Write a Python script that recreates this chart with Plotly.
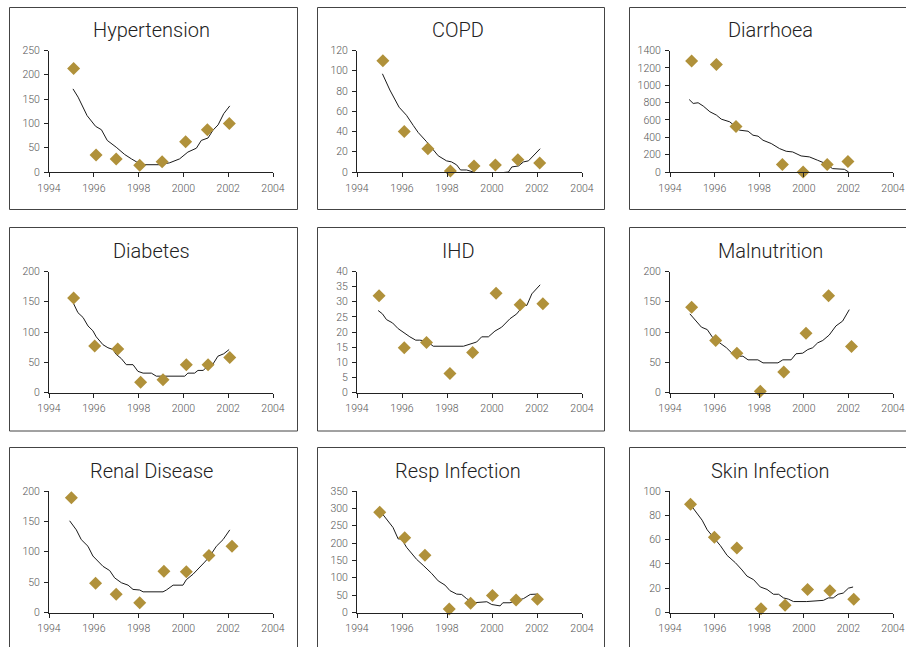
import plotly.graph_objects as go

W, H = 906, 647

# ---- data -------------------------------------------------------------
titles = ["Hypertension", "COPD", "Diarrhoea",
          "Diabetes", "IHD", "Malnutrition",
          "Renal Disease", "Resp Infection", "Skin Infection"]

# observed yearly counts (x = year of observation)
hyper_x = [1995.1, 1996.1, 1997.0, 1998.05, 1999.05, 2000.1, 2001.07, 2002.05]
hyper_y = [213, 35, 27, 14, 21, 62, 87, 100]
copd_x = [1995.15, 1996.1, 1997.15, 1998.15, 1999.2, 2000.15, 2001.15, 2002.12]
copd_y = [110, 40, 23, 1, 6, 7, 12, 9]
diarr_x = [1994.97, 1996.08, 1996.96, 1999.04, 1999.97, 2001.05, 2001.98]
diarr_y = [1280, 1240, 525, 85, 0, 85, 120]
diab_x = [1995.1, 1996.04, 1997.07, 1998.09, 1999.09, 2000.13, 2001.1, 2002.07]
diab_y = [156, 77, 72, 17, 21, 46, 46, 58]
ihd_x = [1994.98, 1996.1, 1997.09, 1998.13, 1999.14, 2000.18, 2001.25, 2002.26]
ihd_y = [32, 14.8, 16.5, 6.3, 13.2, 32.8, 29.0, 29.3]
maln_x = [1994.97, 1996.05, 1997.0, 1998.05, 1999.1, 2000.1, 2001.11, 2002.14]
maln_y = [141, 86, 65, 2, 34, 98, 160, 76]
renal_x = [1995.0, 1996.08, 1997.0, 1998.05, 1999.13, 2000.13, 2001.14, 2002.17]
renal_y = [189, 48, 30, 16, 68, 67, 94, 109]
resp_x = [1995.01, 1996.12, 1997.02, 1998.1, 1999.05, 2000.02, 2001.07, 2002.02]
resp_y = [289, 215, 165, 10, 27, 49, 36, 38]
skin_x = [1994.92, 1995.99, 1997.0, 1998.08, 1999.16, 2000.17, 2001.17, 2002.24]
skin_y = [89, 62, 53, 3, 6, 19, 18, 11]

# fitted trend lines
hyper_tx = [1995.07, 1995.3, 1995.7, 1996.08, 1996.34, 1996.6, 1997.0, 1997.38, 1997.68,
            1997.9, 1998.27, 1998.94, 1999.39, 1999.83, 2000.2, 2000.58, 2000.8, 2001.1,
            2001.32, 2001.55, 2001.8, 2002.07]
hyper_ty = [171, 154, 116, 94, 87, 65, 51, 36, 27, 21, 15, 15, 19, 27, 41, 49, 65, 70,
            86, 97, 120, 136]
copd_tx = [1995.13, 1995.46, 1995.87, 1996.2, 1996.5, 1996.72, 1997.09, 1997.61, 1997.98,
           1998.2, 1998.43, 1998.6, 1998.87, 1999.17, 1999.47, 1999.91, 2000.29, 2000.73,
           2000.88, 2001.18, 2001.4, 2001.62, 2002.14]
copd_ty = [97, 81, 64, 56, 46, 39, 30, 16, 11, 10, 7, 2, 2, 0, -4, -4, -1, 0, 5, 6, 10,
           11, 23]
diarr_tx = [1994.86, 1995.04, 1995.26, 1995.49, 1995.79, 1996.08, 1996.3, 1996.53, 1996.68,
            1996.9, 1997.12, 1997.5, 1997.72, 1997.95, 1998.17, 1998.54, 1998.91, 1999.21,
            1999.5, 1999.88, 2000.25, 2000.62, 2000.92, 2001.29, 2001.59, 2001.82, 2002.01]
diarr_ty = [835, 790, 798, 760, 694, 656, 609, 594, 578, 532, 482, 470, 424, 413, 366, 328,
            270, 239, 231, 185, 174, 135, 104, 39, 39, 31, 0]
diab_tx = [1995.07, 1995.29, 1995.52, 1995.74, 1995.96, 1996.11, 1996.41, 1996.63, 1996.86,
           1997.0, 1997.23, 1997.45, 1997.75, 1997.97, 1998.2, 1998.57, 1998.79, 1999.24,
           2000.06, 2000.2, 2000.5, 2000.65, 2000.88, 2001.1, 2001.32, 2001.54, 2001.8, 2002.04]
diab_ty = [149, 132, 124, 110, 102, 92, 79, 74, 71, 63, 56, 46, 46, 35, 32, 32, 27, 27,
           27, 32, 32, 36.5, 36.5, 44, 47, 60, 64, 71]
ihd_tx = [1994.94, 1995.13, 1995.31, 1995.58, 1995.83, 1996.12, 1996.35, 1996.61, 1996.79,
          1997.09, 1997.39, 1998.73, 1999.1, 1999.32, 1999.54, 1999.84, 2000.13, 2000.43,
          2000.8, 2001.1, 2001.4, 2001.55, 2001.77, 2002.14]
ihd_ty = [27.1, 26.0, 24.1, 23.0, 21.1, 19.5, 18.4, 17.3, 17.3, 17.0, 15.3, 15.3, 16.1,
          16.7, 18.4, 18.4, 20.3, 21.6, 24.4, 26.0, 28.8, 28.8, 32.6, 35.6]
maln_tx = [1994.89, 1995.12, 1995.41, 1995.67, 1995.93, 1996.23, 1996.53, 1996.83, 1997.05,
           1997.27, 1997.5, 1997.94, 1998.17, 1998.84, 1999.06, 1999.43, 1999.65, 1999.95,
           2000.18, 2000.4, 2000.62, 2000.85, 2001.14, 2001.44, 2001.74, 2002.04]
maln_ty = [130, 120, 108, 104, 90, 82, 74, 63, 60, 60, 54, 54, 49, 49, 54, 54, 64, 65,
           71, 74, 82, 86, 95, 110, 118, 137]
renal_tx = [1994.92, 1995.22, 1995.44, 1995.74, 1995.96, 1996.19, 1996.41, 1996.71, 1996.93,
            1997.23, 1997.53, 1997.75, 1998.05, 1998.2, 1999.09, 1999.24, 1999.54, 1999.98,
            2000.13, 2000.43, 2000.73, 2000.95, 2001.17, 2001.47, 2001.77, 2002.07]
renal_ty = [151, 136, 120, 109, 93, 84, 76, 69, 57, 49, 45, 38, 37, 34, 34, 37, 45, 45,
            54, 63, 74, 83, 92, 109, 120, 136]
resp_tx = [1995.13, 1995.38, 1995.6, 1995.83, 1995.98, 1996.2, 1996.42, 1996.65, 1996.94,
           1997.31, 1997.61, 1997.91, 1998.13, 1998.43, 1998.65, 1998.87, 1999.17, 1999.77,
           1999.99, 2000.36, 2000.48, 2000.8, 2001.18, 2001.4, 2001.7, 2002.0]
resp_ty = [284, 262, 245, 212, 212, 188, 172, 153, 136, 113, 91, 79, 63, 53, 52, 40, 28,
           31, 23, 19, 28, 28, 36, 40, 52, 53]
skin_tx = [1994.95, 1995.22, 1995.44, 1995.67, 1995.96, 1996.26, 1996.56, 1996.93, 1997.23,
           1997.45, 1997.75, 1998.05, 1998.35, 1998.64, 1998.87, 1999.09, 1999.31, 1999.54,
           2000.13, 2000.88, 2001.1, 2001.32, 2001.54, 2001.77, 2002.0, 2002.21]
skin_ty = [88, 81, 76, 68, 62, 55, 47, 41, 35, 30, 27, 21, 19, 15, 15, 12, 11, 9, 9, 10,
           12, 12, 15, 16, 20, 21]

points = [(hyper_x, hyper_y), (copd_x, copd_y), (diarr_x, diarr_y),
          (diab_x, diab_y), (ihd_x, ihd_y), (maln_x, maln_y),
          (renal_x, renal_y), (resp_x, resp_y), (skin_x, skin_y)]
trends = [(hyper_tx, hyper_ty), (copd_tx, copd_ty), (diarr_tx, diarr_ty),
          (diab_tx, diab_ty), (ihd_tx, ihd_ty), (maln_tx, maln_ty),
          (renal_tx, renal_ty), (resp_tx, resp_ty), (skin_tx, skin_ty)]
y_max = [250, 120, 1400, 200, 40, 200, 200, 350, 100]
y_step = [50, 20, 200, 50, 5, 50, 50, 50, 20]

# ---- layout geometry (pixels) ----------------------------------------
col_plot = [(49, 273), (357, 582), (670, 893)]
row_plot = [(50.5, 172), (271.5, 392.5), (491, 612.5)]
col_box = [(9.5, 297.5), (317.5, 604.5), (629.5, 912)]
row_box = [(7.5, 209.5), (227.5, 431), (447.5, 655)]
title_x = [151, 458, 770]
title_y = [30, 251, 471]

FONT = "Roboto"
GOLD = "#B0913A"

fig = go.Figure()
shapes, annotations = [], []

for i in range(9):
    r, c = divmod(i, 3)
    n = i + 1
    xa = "x" if n == 1 else f"x{n}"
    ya = "y" if n == 1 else f"y{n}"

    tx, ty = trends[i]
    fig.add_trace(go.Scatter(x=tx, y=ty, mode="lines", xaxis=xa, yaxis=ya,
                             line=dict(color="#1a1a1a", width=1),
                             showlegend=False, hoverinfo="skip"))
    px_, py_ = points[i]
    fig.add_trace(go.Scatter(x=px_, y=py_, mode="markers", xaxis=xa, yaxis=ya,
                             marker=dict(symbol="diamond", size=10, color=GOLD,
                                         line=dict(width=0)),
                             cliponaxis=False, showlegend=False))

    x0, x1 = col_plot[c]
    y0, y1 = row_plot[r]
    axis_common = dict(showgrid=False, zeroline=False, showline=True, automargin=False,
                       linecolor="#222", linewidth=1, ticks="outside",
                       ticklen=4, tickcolor="#222", tickwidth=1,
                       ticklabeloverflow="allow",
                       tickfont=dict(family=FONT, size=10.5, color="#555", weight=300))
    fig.layout[("xaxis" if n == 1 else f"xaxis{n}")] = dict(
        domain=[x0 / W, x1 / W], anchor=ya, range=[1994, 2004],
        tickmode="linear", tick0=1994, dtick=2, ticklabelstandoff=2, **axis_common)
    fig.layout[("yaxis" if n == 1 else f"yaxis{n}")] = dict(
        domain=[1 - y1 / H, 1 - y0 / H], anchor=xa, range=[0, y_max[i]],
        tickmode="linear", tick0=0, dtick=y_step[i], ticklabelstandoff=2,
        **axis_common)

    bx0, bx1 = col_box[c]
    by0, by1 = row_box[r]
    shapes.append(dict(type="rect", xref="paper", yref="paper",
                       x0=bx0 / W, x1=bx1 / W, y0=1 - by1 / H, y1=1 - by0 / H,
                       line=dict(color="#444", width=1), fillcolor="rgba(0,0,0,0)",
                       layer="below"))
    annotations.append(dict(text=titles[i], xref="paper", yref="paper",
                            x=title_x[c] / W, y=1 - title_y[r] / H,
                            xanchor="center", yanchor="middle", showarrow=False,
                            font=dict(family=FONT, size=20, color="#222", weight=300)))

fig.update_layout(width=W, height=H, margin=dict(l=0, r=0, t=0, b=0),
                  paper_bgcolor="white", plot_bgcolor="white",
                  shapes=shapes, annotations=annotations, showlegend=False)

fig.write_html("out.html")
